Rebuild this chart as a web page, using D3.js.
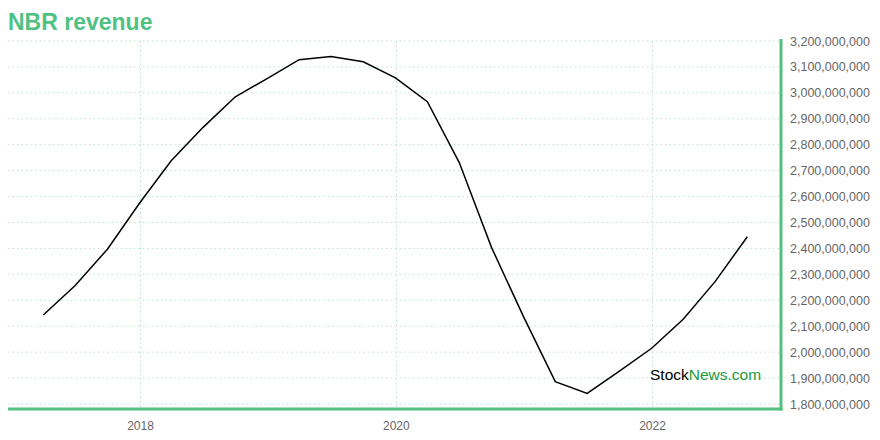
<!DOCTYPE html>
<html><head><meta charset="utf-8">
<script src="https://cdn.jsdelivr.net/npm/d3@7"></script>
<style>body{margin:0;background:#fff}svg{display:block}</style>
</head><body>
<svg id="c" width="880" height="440"></svg>
<script>
const dates = ["2017-03-31","2017-06-30","2017-09-30","2017-12-31","2018-03-31","2018-06-30","2018-09-30","2018-12-31","2019-03-31","2019-06-30","2019-09-30","2019-12-31","2020-03-31","2020-06-30","2020-09-30","2020-12-31","2021-03-31","2021-06-30","2021-09-30","2021-12-31","2022-03-31","2022-06-30","2022-09-30"];
const revenue = [2143,2257,2397,2575,2738,2867,2985,3056,3128,3140,3120,3058,2966,2731,2404,2135,1886,1841,1927,2015,2127,2272,2445].map(v=>v*1e6);
const yTicks = [1.8e9,1.9e9,2.0e9,2.1e9,2.2e9,2.3e9,2.4e9,2.5e9,2.6e9,2.7e9,2.8e9,2.9e9,3.0e9,3.1e9,3.2e9];
const xTickYears = [2018,2020,2022];

const svg = d3.select("#c");
const parse = d3.timeParse("%Y-%m-%d");
const data = dates.map((d,i)=>({date:parse(d), v:revenue[i]}));

const pLeft=8, pRight=781, pTop=41, pBottom=409;
const x0 = new Date(2018,0,1), x1 = new Date(2022,0,1);
const x = d3.scaleTime().domain([x0,x1]).range([140,652]);
const y = d3.scaleLinear().domain([1.8e9,3.2e9]).range([404,41]);

const grid = svg.append("g");
yTicks.forEach(t=>{
  grid.append("line").attr("x1",pLeft).attr("x2",pRight).attr("y1",y(t)).attr("y2",y(t))
    .attr("stroke","#b9e3c9").attr("stroke-width",1).attr("stroke-dasharray","1.5,3");
});
xTickYears.forEach(yr=>{
  const xx = Math.round(x(new Date(yr,0,1)))+0.5;
  grid.append("line").attr("x1",xx).attr("x2",xx).attr("y1",pTop).attr("y2",pBottom)
    .attr("stroke","#b9e3c9").attr("stroke-width",1).attr("stroke-dasharray","1.5,3");
});

const yAxis = d3.axisRight(y).tickValues(yTicks).tickFormat(d3.format(",")).tickSize(0).tickPadding(9);
const ga = svg.append("g").attr("transform",`translate(${pRight},0)`).call(yAxis);
ga.select(".domain").remove();
ga.selectAll("text").attr("fill","#666").style("font-family","Liberation Sans, Arial, sans-serif").style("font-size","12.5px");

const xAxis = d3.axisBottom(x).tickValues(xTickYears.map(yr=>new Date(yr,0,1))).tickFormat(d3.timeFormat("%Y")).tickSize(0).tickPadding(12);
const gx = svg.append("g").attr("transform",`translate(0,${pBottom})`).call(xAxis);
gx.select(".domain").remove();
gx.selectAll("text").attr("fill","#666").style("font-family","Liberation Sans, Arial, sans-serif").style("font-size","12px");

svg.append("line").attr("x1",pLeft).attr("x2",pRight+1.5).attr("y1",pBottom).attr("y2",pBottom).attr("stroke","#55c07f").attr("stroke-width",3);
svg.append("line").attr("x1",pRight).attr("x2",pRight).attr("y1",pTop-2).attr("y2",pBottom+1.5).attr("stroke","#55c07f").attr("stroke-width",3);

svg.append("path").datum(data)
  .attr("d", d3.line().x(d=>x(d.date)).y(d=>y(d.v)))
  .attr("fill","none").attr("stroke","#000").attr("stroke-width",1.5);

svg.append("text").attr("x",8).attr("y",30).text("NBR revenue")
  .attr("fill","#4fc283").style("font-family","Liberation Sans, Arial, sans-serif").style("font-size","23px").style("font-weight","bold");

const wm = svg.append("text").attr("x",650).attr("y",380).style("font-family","Liberation Sans, Arial, sans-serif").style("font-size","15.5px");
wm.append("tspan").text("Stock").attr("fill","#000");
wm.append("tspan").text("News.com").attr("fill","#1e9a3a");
</script>
</body></html>
